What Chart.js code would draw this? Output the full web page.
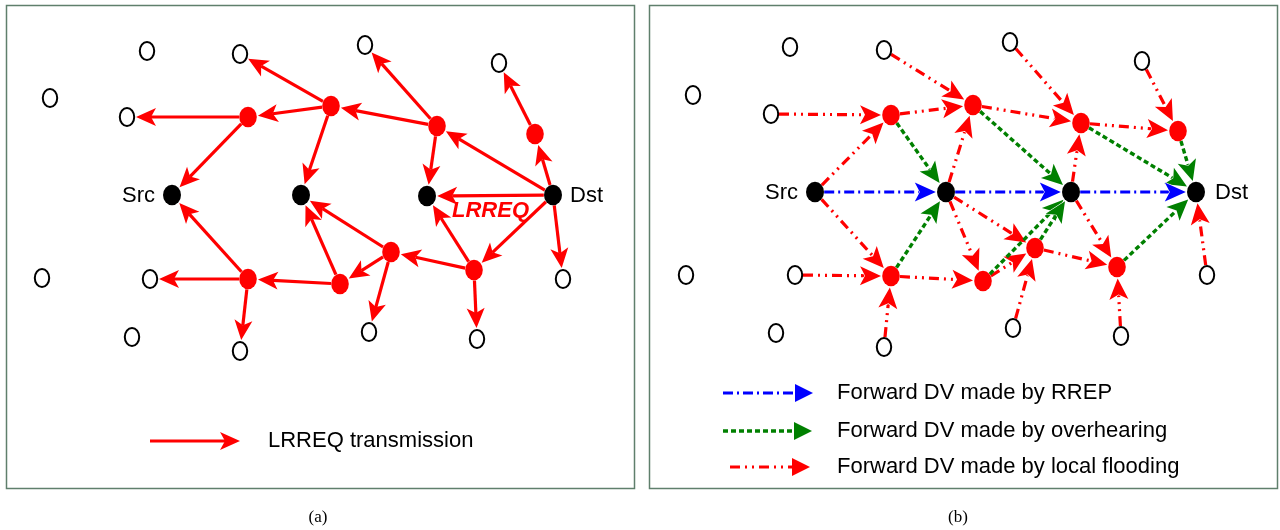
<!DOCTYPE html>
<html>
<head>
<meta charset="utf-8">
<script src="https://cdn.jsdelivr.net/npm/chart.js@4"></script>
<style>
  html, body { margin: 0; padding: 0; background: #fff; }
  #wrap { width: 1280px; height: 530px; }
</style>
</head>
<body>
<div id="wrap"><canvas id="net" width="1280" height="530"></canvas></div>
<script>
// (a) LRREQ flooding — node positions in page units
const aIdle = [[50, 98], [147, 51], [240, 54], [127, 117], [365, 45], [499, 63], [42, 278],
               [150, 279], [132, 337], [240, 351], [369, 332], [477, 339], [563, 279]];
const aKey = [[172, 195], [301, 195], [427, 196], [553, 195]]; // Src, on-path, on-path, Dst
const aRelay = [[248, 117], [331, 106], [437, 126], [535, 134], [248, 279], [340, 284], [391, 252], [474, 270]];
const aLrreq = [
  ["r1", "i2"], ["r1", "r0"], ["r1", "k1"], ["r0", "i3"], ["r0", "k0"],
  ["r2", "i4"], ["r2", "r1"], ["r2", "k2"], ["k3", "r2"], ["k3", "k2"],
  ["k3", "r3"], ["r3", "i5"], ["k3", "r7"], ["k3", "i12"], ["r7", "k2"],
  ["r7", "r6"], ["r7", "i11"], ["r6", "k1"], ["r6", "r5"], ["r6", "i10"],
  ["r5", "k1"], ["r5", "r4"], ["r4", "k0"], ["r4", "i7"], ["r4", "i9"]
];

// (b) forward DV set-up
const bIdle = [[693, 95], [790, 47], [884, 50], [771, 114], [1010, 42], [1142, 61], [686, 275],
               [795, 275], [776, 333], [884, 347], [1013, 328], [1121, 336], [1207, 275]];
const bKey = [[815, 192], [946, 192], [1071, 192], [1196, 192]];
const bRelay = [[891, 115], [973, 105], [1081, 123], [1178, 131], [891, 276], [983, 281], [1035, 248], [1117, 267]];
const bRrep = [["k0", "k1"], ["k1", "k2"], ["k2", "k3"]];
const bOverhear = [["r0", "k1"], ["r4", "k1"], ["r1", "k2"], ["r5", "k2"], ["r6", "k2"],
                   ["r2", "k3"], ["r3", "k3"], ["r7", "k3"]];
const bFlood = [
  ["i2", "r1"], ["i3", "r0"], ["r0", "r1"], ["k0", "r0"], ["k0", "r4"], ["i7", "r4"],
  ["i9", "r4"], ["r4", "r5"], ["k1", "r5"], ["k1", "r6"], ["k1", "r1"], ["i4", "r2"],
  ["r1", "r2"], ["k2", "r2"], ["i5", "r3"], ["r2", "r3"], ["k2", "r7"], ["r6", "r7"],
  ["i11", "r7"], ["i12", "k3"], ["i10", "r6"], ["r5", "r6"]
];

const keyNames = ["Src", "Dst"];
const legendA = ["LRREQ transmission"];
const legendB = ["Forward DV made by RREP", "Forward DV made by overhearing", "Forward DV made by local flooding"];
const captions = ["(a)", "(b)"];

const RED = "#ff0000", GREEN = "#008000", BLUE = "#0000ff";
const FONT = "'Liberation Sans', Arial, Helvetica, sans-serif";

// ellipse half-sizes per node kind
const radii = { i: [8, 10], r: [9, 10.5], k: [9.2, 10.5] };

function nodeImage(fill, stroke, rx, ry) {
  const c = document.createElement("canvas");
  c.width = 24; c.height = 26;
  const g = c.getContext("2d");
  g.beginPath();
  g.ellipse(12, 13, rx, ry, 0, 0, Math.PI * 2);
  g.fillStyle = fill;
  g.fill();
  if (stroke) { g.lineWidth = 2; g.strokeStyle = stroke; g.stroke(); }
  return c;
}
const idleImg = nodeImage("#fff", "#000", 7.2, 9);
const relayImg = nodeImage(RED, null, 8.8, 10.3);
const keyImg = nodeImage("#000", null, 9, 10.3);

function pick(set, id) {
  const p = set[id[0]][+id.slice(1)];
  return { p: p, r: radii[id[0]] };
}

function edgeR(ux, uy, r) {
  if (!r) return 0;
  return 1 / Math.sqrt((ux / r[0]) ** 2 + (uy / r[1]) ** 2);
}

function head(ctx, tx, ty, ux, uy, st) {
  const L = st.head, W = st.half, N = st.notch;
  const bx = tx - ux * L, by = ty - uy * L;
  ctx.setLineDash([]);
  ctx.beginPath();
  ctx.moveTo(tx, ty);
  ctx.lineTo(bx - uy * W, by + ux * W);
  ctx.lineTo(tx - ux * (L - N), ty - uy * (L - N));
  ctx.lineTo(bx + uy * W, by - ux * W);
  ctx.closePath();
  ctx.fillStyle = st.color;
  if (st.rim) { ctx.lineWidth = 1.2; ctx.strokeStyle = "#fff"; ctx.stroke(); }
  ctx.fill();
}

function arrow(ctx, p, q, rFrom, rTo, st) {
  const dx = q[0] - p[0], dy = q[1] - p[1];
  const len = Math.hypot(dx, dy);
  const ux = dx / len, uy = dy / len;
  const a = edgeR(ux, uy, rFrom);
  const b = edgeR(ux, uy, rTo) + (rTo ? 1 : 0);
  const sx = p[0] + ux * a, sy = p[1] + uy * a;
  const tx = q[0] - ux * b, ty = q[1] - uy * b;
  const stop = st.head - st.notch;
  ctx.save();
  ctx.lineCap = "butt";
  ctx.strokeStyle = st.color;
  ctx.lineWidth = st.width;
  ctx.setLineDash(st.dash);
  ctx.beginPath();
  ctx.moveTo(sx, sy);
  ctx.lineTo(tx - ux * stop, ty - uy * stop);
  ctx.stroke();
  head(ctx, tx, ty, ux, uy, st);
  ctx.restore();
}

const solidRed = { color: RED, width: 3.2, dash: [], head: 20, half: 9, notch: 5 };
const rrepStyle = { color: BLUE, width: 3.2, dash: [10, 4, 2, 4], head: 21, half: 9.5, notch: 5, rim: true };
const overStyle = { color: GREEN, width: 3.4, dash: [5, 3], head: 21, half: 9.5, notch: 5, rim: true };
const floodStyle = { color: RED, width: 3.2, dash: [10, 5, 2, 5, 2, 5], head: 21, half: 9.5, notch: 5, rim: true };

const aSet = { i: aIdle, r: aRelay, k: aKey };
const bSet = { i: bIdle, r: bRelay, k: bKey };

const netPlugin = {
  id: "net",
  beforeDatasetsDraw(chart) {
    const ctx = chart.ctx;
    const xs = chart.scales.x, ys = chart.scales.y;
    const px = p => [xs.getPixelForValue(p[0]), ys.getPixelForValue(p[1])];

    // panel frames
    ctx.save();
    ctx.strokeStyle = "#5f7f6c";
    ctx.lineWidth = 1.5;
    ctx.strokeRect(6.5, 5.5, 628, 483);
    ctx.strokeRect(649.5, 5.5, 628, 483);
    ctx.restore();

    const draw = (set, edges, st) => edges.forEach(([f, t]) => {
      const A = pick(set, f), B = pick(set, t);
      arrow(ctx, px(A.p), px(B.p), A.r, B.r, st);
    });
    draw(aSet, aLrreq, solidRed);
    draw(bSet, bFlood, floodStyle);
    draw(bSet, bOverhear, overStyle);
    draw(bSet, bRrep, rrepStyle);

    // legend arrows
    const plain = { notch: 0, head: 18, half: 9, rim: false };
    arrow(ctx, [150, 441], [240, 441], null, null, solidRed);
    arrow(ctx, [723, 393], [813, 393], null, null, Object.assign({}, rrepStyle, plain));
    arrow(ctx, [723, 431], [812, 431], null, null, Object.assign({}, overStyle, plain));
    arrow(ctx, [730, 467], [810, 467], null, null, Object.assign({}, floodStyle, plain));
  },
  afterDatasetsDraw(chart) {
    const ctx = chart.ctx;
    ctx.save();
    ctx.textBaseline = "middle";
    ctx.fillStyle = "#000";
    ctx.font = "22px " + FONT;
    ctx.textAlign = "right";
    ctx.fillText(keyNames[0], 155, 196);
    ctx.fillText(keyNames[0], 798, 193);
    ctx.textAlign = "left";
    ctx.fillText(keyNames[1], 570, 196);
    ctx.fillText(keyNames[1], 1215, 193);

    ctx.fillText(legendA[0], 268, 441);
    legendB.forEach((t, i) => ctx.fillText(t, 837, [393, 431, 467][i]));

    ctx.fillStyle = RED;
    ctx.font = "italic bold 22px " + FONT;
    ctx.fillText("LRREQ", 452, 211);

    ctx.fillStyle = "#000";
    ctx.font = "17px 'Liberation Serif', 'Times New Roman', serif";
    ctx.textAlign = "center";
    ctx.fillText(captions[0], 318, 518);
    ctx.fillText(captions[1], 958, 518);
    ctx.restore();
  }
};

const toXY = arr => arr.map(([x, y]) => ({ x: x, y: y }));
const nodeSet = (data, img) => ({
  data: toXY(data),
  pointStyle: img,
  pointRadius: 10,
  pointHoverRadius: 10,
  showLine: false,
  clip: false
});

new Chart(document.getElementById("net"), {
  type: "scatter",
  data: {
    datasets: [
      nodeSet(aIdle, idleImg), nodeSet(aRelay, relayImg), nodeSet(aKey, keyImg),
      nodeSet(bIdle, idleImg), nodeSet(bRelay, relayImg), nodeSet(bKey, keyImg)
    ]
  },
  options: {
    responsive: false,
    animation: false,
    devicePixelRatio: 1,
    layout: { padding: 0, autoPadding: false },
    events: [],
    scales: {
      x: { type: "linear", min: 0, max: 1280, display: false },
      y: { type: "linear", min: 0, max: 530, reverse: true, display: false }
    },
    plugins: { legend: { display: false }, tooltip: { enabled: false } }
  },
  plugins: [netPlugin]
});
</script>
</body>
</html>
